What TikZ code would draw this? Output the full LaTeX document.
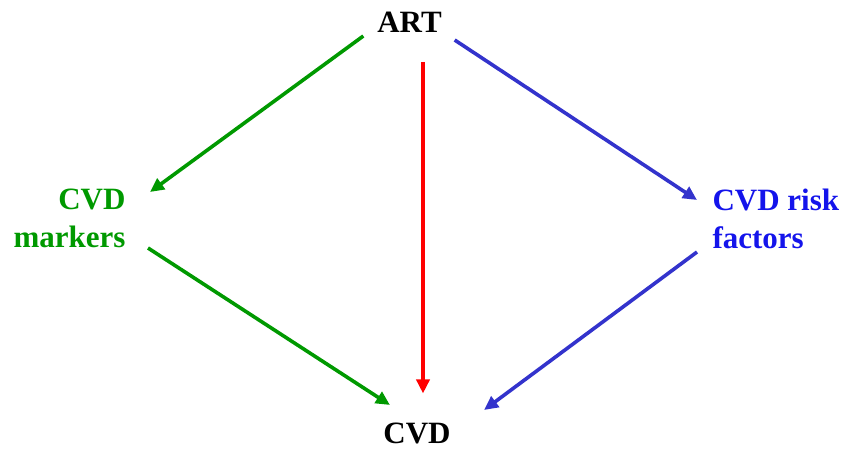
\documentclass[tikz,border=0pt]{standalone}
\usepackage{fontspec}
\setmainfont{Liberation Serif}
\usetikzlibrary{arrows.meta, calc, positioning}
\definecolor{mkgreen}{RGB}{0,153,0}
\definecolor{rfblue}{RGB}{20,20,235}
\definecolor{arblue}{RGB}{51,51,204}
\definecolor{arred}{RGB}{255,0,0}
\tikzset{
    x=1pt, y=-1pt, % pixel like coordinates, y going down
    lbl/.style = {inner sep=0pt, outer sep=0pt, font=\fontsize{31}{38}\selectfont\bfseries},
    link/.style = {line width=3.6pt, -{Triangle[length=14pt,width=13pt]}}, % the arrows between the nodes
    grn/.style = {link, draw=mkgreen, fill=mkgreen},
    blu/.style = {link, draw=arblue, fill=arblue},
    rd/.style = {link, draw=arred, fill=arred}
}
\begin{document}
\begin{tikzpicture}
\useasboundingbox (0,0) rectangle (848,449);
\node[lbl, anchor=base] (art) at (409.5,33) {ART};
\node[lbl, anchor=base] (cvd) at (417,443) {CVD};
\node[lbl, anchor=north east, align=right, text=mkgreen] (markers) at (125.5,189) {CVD\\markers};
\node[lbl, anchor=north west, align=left, text=rfblue] (risk) at (712.5,189) {CVD risk\\factors};

\draw[grn] ([shift={(-14,3)}]art.south west) -- ([shift={(24.5,3)}]markers.north east);
\draw[grn] ([shift={(22.5,59)}]markers.north east) -- ([shift={(6.5,-17.5)}]cvd.north west);
\draw[rd] ([shift={(13.5,29)}]art.south) -- ([shift={(6,-29)}]cvd.north);
\draw[blu] ([shift={(13,7)}]art.south east) -- ([shift={(-15.5,11)}]risk.north west);
\draw[blu] ([shift={(-15.5,63)}]risk.north west) -- ([shift={(33.5,-12.5)}]cvd.north east);
\end{tikzpicture}
\end{document}
